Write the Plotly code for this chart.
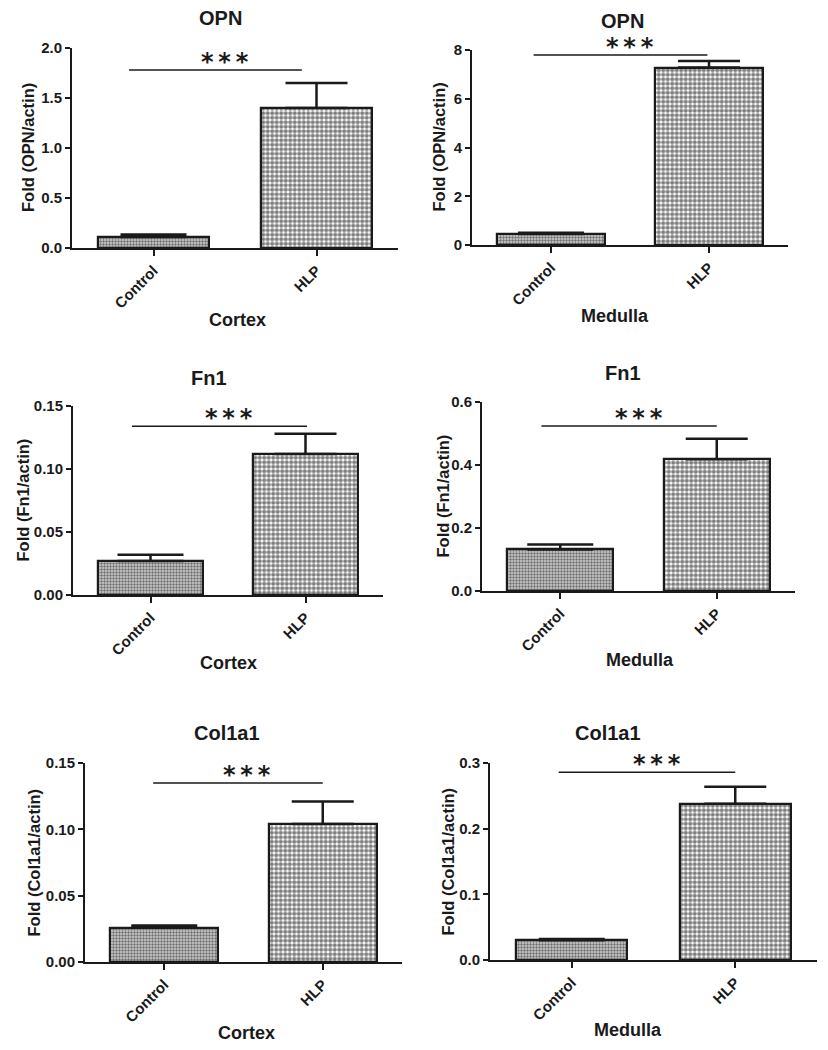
import plotly.graph_objects as go

categories = ["Control", "HLP"]
genes = ["OPN", "OPN", "Fn1", "Fn1", "Col1a1", "Col1a1"]
regions = ["Cortex", "Medulla", "Cortex", "Medulla", "Cortex", "Medulla"]
ylabels = ["Fold (OPN/actin)", "Fold (OPN/actin)", "Fold (Fn1/actin)", "Fold (Fn1/actin)",
           "Fold (Col1a1/actin)", "Fold (Col1a1/actin)"]
ctrl_mean = [0.11, 0.45, 0.027, 0.132, 0.026, 0.030]
ctrl_err = [0.025, 0.05, 0.005, 0.016, 0.0015, 0.002]
hlp_mean = [1.40, 7.28, 0.112, 0.418, 0.104, 0.238]
hlp_err = [0.25, 0.27, 0.016, 0.065, 0.017, 0.026]
sig_level = [1.78, 7.8, 0.134, 0.524, 0.135, 0.286]
sig_label = ["*\u2009*\u2009*"] * 6
y_max = [2.0, 8, 0.15, 0.6, 0.15, 0.3]
y_dtick = [0.5, 2, 0.05, 0.2, 0.05, 0.1]
y_format = [".1f", "d", ".2f", ".1f", ".2f", ".1f"]

# page body has an 8px margin; work in window pixels and shift
OFF = 8
W, H = 828 - OFF, 1050 - OFF
# panel boxes in window pixels: x0, x1, ytop, ybottom
boxes = [(72, 398, 48, 248), (472, 788, 50, 245),
         (73, 383, 406, 595), (482, 795, 402, 591),
         (85, 402, 763, 962), (490, 817, 763, 960)]
sig_x = [(-0.15, 0.91), (-0.11, 0.99), (-0.12, 1.01), (-0.12, 1.0), (-0.07, 1.0), (-0.08, 1.0)]
star_dx = 0.06
title_pos = [(220, 18), (622, 21), (209, 378), (623, 373), (227, 733), (608, 733)]
xtitle_pos = [(237, 320), (615, 316), (228, 663), (640, 660), (247, 1033), (628, 1030)]
ytitle_x = [28, 438, 23, 442, 33, 447]

FONT = "Liberation Sans"
INK = "#1a1a1a"


def px(x):
    return (x - OFF) / W


def py(y):
    return 1 - (y - OFF) / H


fig = go.Figure()
annotations = []
shapes = []
for i in range(6):
    x0, x1, yt, yb = boxes[i]
    sfx = "" if i == 0 else str(i + 1)
    xa, ya = "x" + sfx, "y" + sfx
    fig.add_trace(go.Bar(
        x=[categories[0]], y=[ctrl_mean[i]], width=0.68,
        error_y=dict(type="data", symmetric=False, array=[ctrl_err[i]], arrayminus=[0],
                     color=INK, thickness=2.5, width=33),
        marker=dict(color="#9a9a9a", line=dict(color=INK, width=2.2),
                    pattern=dict(shape=".", size=3, solidity=0.5, fgcolor="#111111", bgcolor="#d0d0d0")),
        xaxis=xa, yaxis=ya, showlegend=False))
    fig.add_trace(go.Bar(
        x=[categories[1]], y=[hlp_mean[i]], width=0.68,
        error_y=dict(type="data", symmetric=False, array=[hlp_err[i]], arrayminus=[0],
                     color=INK, thickness=2.5, width=31),
        marker=dict(color="white", line=dict(color=INK, width=2.2),
                    pattern=dict(shape=".", size=4.5, solidity=0.65, fgcolor="#000000", bgcolor="white")),
        xaxis=xa, yaxis=ya, showlegend=False))
    fig.update_layout({
        ("xaxis" + sfx): dict(domain=[px(x0), px(x1)], anchor=ya, range=[-0.5, 1.5],
                              automargin=False,
                              showline=True, linecolor=INK, linewidth=2, ticks="outside",
                              ticklen=6, tickwidth=2, tickcolor=INK, tickangle=-45,
                              showgrid=False, zeroline=False,
                              tickfont=dict(family=FONT, size=15, color=INK, weight="bold")),
        ("yaxis" + sfx): dict(domain=[py(yb), py(yt)], anchor=xa, range=[0, y_max[i]],
                              automargin=False,
                              dtick=y_dtick[i], tick0=0, tickformat=y_format[i],
                              showline=True, linecolor=INK, linewidth=2, ticks="outside",
                              ticklen=5, tickwidth=2, tickcolor=INK,
                              showgrid=False, zeroline=False,
                              tickfont=dict(family=FONT, size=15, color=INK, weight="bold")),
    })
    shapes.append(dict(type="line", xref=xa, yref=ya, x0=sig_x[i][0], x1=sig_x[i][1],
                       y0=sig_level[i], y1=sig_level[i], line=dict(color=INK, width=1.5)))
    annotations.append(dict(xref=xa, yref=ya, x=(sig_x[i][0] + sig_x[i][1]) / 2 + star_dx, y=sig_level[i],
                            text=sig_label[i], showarrow=False, xanchor="center", yanchor="middle",
                            yshift=8,
                            font=dict(family="DejaVu Sans", size=24, color=INK, weight="bold")))
    annotations.append(dict(xref="paper", yref="paper", x=px(title_pos[i][0]), y=py(title_pos[i][1]),
                            text=genes[i], showarrow=False, xanchor="center", yanchor="middle",
                            font=dict(family=FONT, size=20, color=INK, weight="bold")))
    annotations.append(dict(xref="paper", yref="paper", x=px(xtitle_pos[i][0]), y=py(xtitle_pos[i][1]),
                            text=regions[i], showarrow=False, xanchor="center", yanchor="middle",
                            font=dict(family=FONT, size=18, color=INK, weight="bold")))
    annotations.append(dict(xref="paper", yref="paper", x=px(ytitle_x[i]), y=py((yt + yb) / 2),
                            text=ylabels[i], showarrow=False, textangle=-90,
                            xanchor="center", yanchor="middle",
                            font=dict(family=FONT, size=16.5, color=INK, weight="bold")))

fig.update_layout(width=W, height=H, margin=dict(l=0, r=0, t=0, b=0),
                  paper_bgcolor="white", plot_bgcolor="white",
                  annotations=annotations, shapes=shapes, bargap=0)
fig.write_html("out.html")
